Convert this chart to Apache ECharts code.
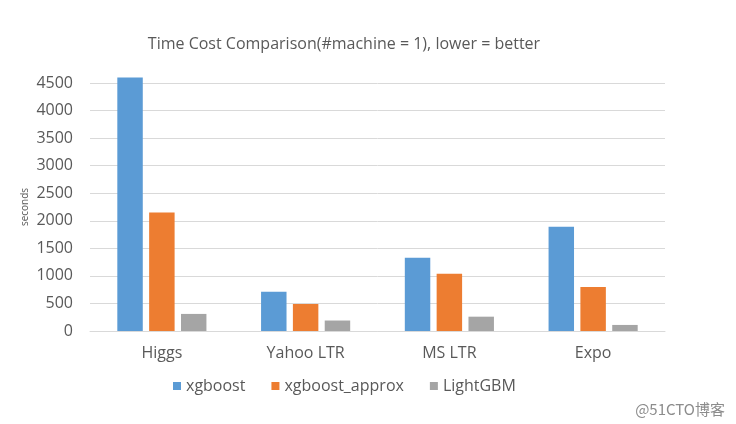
<!DOCTYPE html>
<html><head><meta charset="utf-8">
<script src="https://cdn.jsdelivr.net/npm/echarts@6/dist/echarts.min.js"></script>
<style>html,body{margin:0;padding:0;background:#fff}#c{width:736px;height:424px}</style>
</head><body><div id="c"></div>
<script>
const categories = ["Higgs", "Yahoo LTR", "MS LTR", "Expo"];
const seriesNames = ["xgboost", "xgboost_approx", "LightGBM"];
const xgboost = [4600, 710, 1330, 1890];
const xgboostApprox = [2150, 490, 1040, 800];
const lightgbm = [310, 190, 260, 110];
const yTicks = [0, 500, 1000, 1500, 2000, 2500, 3000, 3500, 4000, 4500];
const colors = ["#5B9BD5", "#ED7D31", "#A5A5A5"];
const font = "'Open Sans', 'Noto Sans', sans-serif";
const txt = "#595959";
const chart = echarts.init(document.getElementById('c'));
const data = [xgboost, xgboostApprox, lightgbm];
chart.setOption({
  animation: false,
  title: [{
    text: "Time Cost Comparison(#machine = 1), lower = better",
    left: 339, top: 31, textAlign: 'center',
    textStyle: {fontFamily: font, fontSize: 16, fontWeight: 'normal', color: txt}
  }, {
    text: "@51CTO博客", right: 6, top: 397,
    textStyle: {fontFamily: "'Noto Sans CJK SC', sans-serif", fontSize: 15, fontWeight: 'normal', color: '#8c8c8c'}
  }],
  legend: {
    data: seriesNames, bottom: 25, left: 168,
    itemWidth: 8, itemHeight: 8, itemGap: 26, icon: 'rect',
    textStyle: {fontFamily: font, fontSize: 16, color: txt}
  },
  grid: {left: 90, right: 71, top: 83, bottom: 93},
  xAxis: {
    type: 'category', data: categories,
    axisLine: {lineStyle: {color: '#d9d9d9'}}, axisTick: {show: false},
    axisLabel: {fontFamily: font, fontSize: 16, color: txt, margin: 14}
  },
  yAxis: {
    type: 'value', min: yTicks[0], max: yTicks[yTicks.length - 1], interval: 500,
    name: 'seconds', nameLocation: 'middle', nameGap: 60, nameRotate: 90,
    nameMoveOverlap: false,
    nameTextStyle: {fontFamily: font, fontSize: 10, color: txt},
    axisLine: {show: false}, axisTick: {show: false},
    splitLine: {lineStyle: {color: '#d9d9d9'}},
    axisLabel: {fontFamily: font, fontSize: 16, color: txt, margin: 17, formatter: v => String(v)}
  },
  series: seriesNames.map((n, i) => ({
    name: n, type: 'bar', data: data[i], clip: false,
    itemStyle: {color: colors[i]},
    barGap: '25%', barCategoryGap: '38%'
  }))
});
</script></body></html>
